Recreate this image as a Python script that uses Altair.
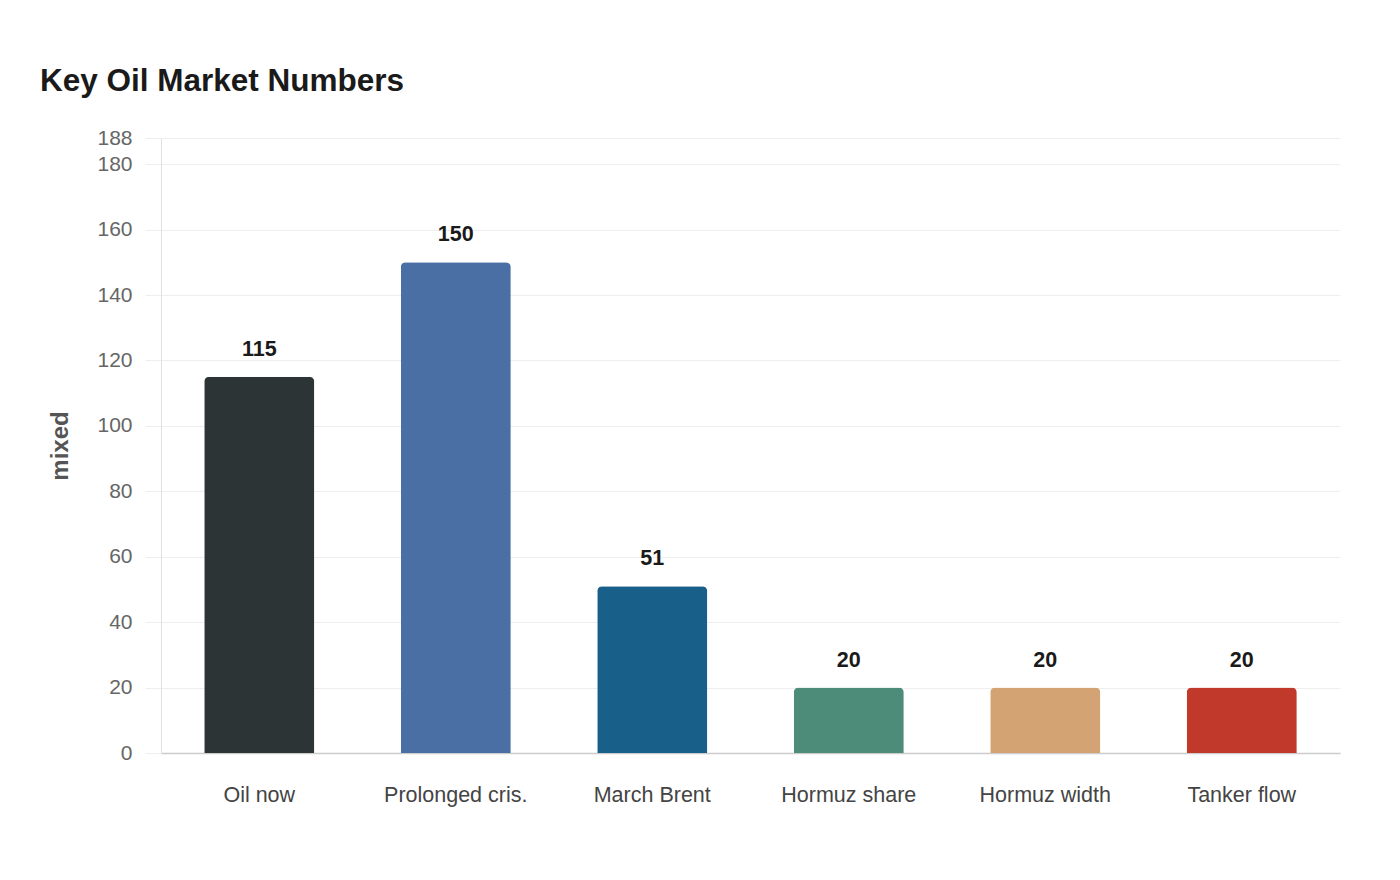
import altair as alt
import pandas as pd

categories = ["Oil now", "Prolonged cris.", "March Brent", "Hormuz share", "Hormuz width", "Tanker flow"]
values = [115, 150, 51, 20, 20, 20]
colors = ["#2d3436", "#4a6fa5", "#18608a", "#4e8c7a", "#d4a373", "#c0392b"]
y_ticks = [0, 20, 40, 60, 80, 100, 120, 140, 160, 180, 188]

df = pd.DataFrame({"category": categories, "value": values, "color": colors})

FONT = "Liberation Sans"

x_enc = alt.X(
    "category:N",
    sort=categories,
    title=None,
    scale=alt.Scale(paddingInner=0.44, paddingOuter=0.22),
    axis=alt.Axis(
        labelAngle=0, labelFontSize=21.5, labelColor="#444444", labelFont=FONT,
        labelPadding=31, ticks=False, domainColor="#cccccc", domainWidth=1.5,
        grid=False,
    ),
)
y_enc = alt.Y(
    "value:Q",
    title="mixed",
    scale=alt.Scale(domain=[0, 188], nice=False),
    axis=alt.Axis(
        values=y_ticks, labelFontSize=21, labelColor="#666666", labelFont=FONT,
        tickSize=16, tickColor="#eeeeee", labelPadding=13,
        domainColor="#e0e0e0", gridColor="#eeeeee",
        titleFontSize=24, titleFont=FONT, titleFontWeight="bold", titleColor="#555555",
        titlePadding=24,
    ),
)

bars = alt.Chart(df).mark_bar(cornerRadiusTopLeft=5, cornerRadiusTopRight=5).encode(
    x=x_enc,
    y=y_enc,
    color=alt.Color("color:N", scale=None),
)

labels = alt.Chart(df).mark_text(
    baseline="bottom", dy=-16, fontSize=21.5, fontWeight="bold", font=FONT, color="#1a1a1a"
).encode(
    x=alt.X("category:N", sort=categories),
    y="value:Q",
    text="value:Q",
)

chart = (
    alt.layer(bars, labels)
    .properties(
        width=1179,
        height=615,
        background="white",
        title=alt.TitleParams(
            "Key Oil Market Numbers", anchor="start", frame="group", fontSize=31.5, font=FONT,
            fontWeight="bold", color="#1a1a1a", dx=-121, offset=30,
        ),
        autosize=alt.AutoSizeParams(type="none"),
        padding={"left": 153, "top": 130, "right": 50, "bottom": 110},
    )
    .configure_view(strokeWidth=0, stroke="transparent")
)

chart.save("out.html", embed_options={"renderer": "svg", "actions": False})
